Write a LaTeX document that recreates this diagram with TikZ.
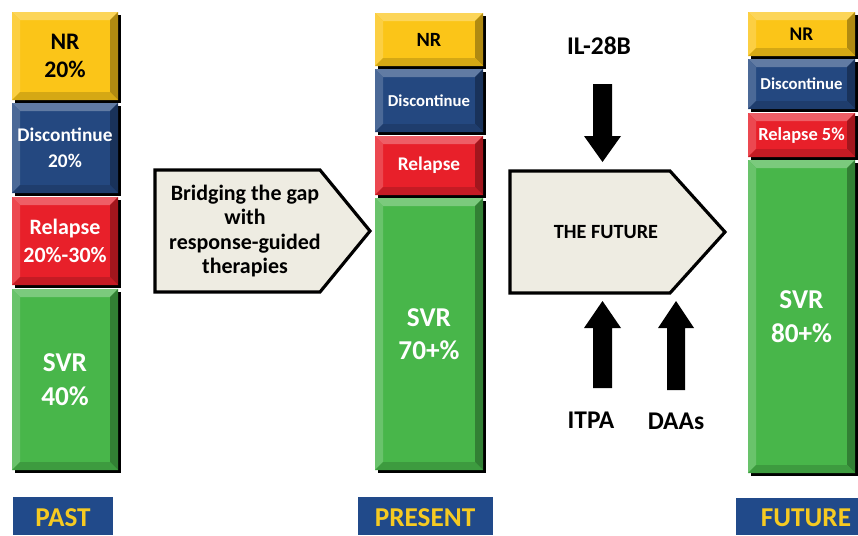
\documentclass[tikz,border=0pt]{standalone}
\usepackage{fontspec}
\setmainfont{Carlito}
\usetikzlibrary{positioning,calc}

\definecolor{nryellow}{RGB}{251,197,24}
\definecolor{dcblue}{RGB}{36,72,128}
\definecolor{rlred}{RGB}{232,32,42}
\definecolor{svgreen}{RGB}{72,182,74}
\definecolor{paper}{RGB}{238,236,226}
\definecolor{tagblue}{RGB}{33,74,138}
\definecolor{tagyellow}{RGB}{246,202,34}

\tikzset{
  boxtext/.style={font=\bfseries, text=white, align=center, inner sep=0pt},
  tag/.style={fill=tagblue},
  tagtext/.style={font=\bfseries\fontsize{15.5}{17}\selectfont, text=tagyellow},
  pentagon/.style={draw=black, fill=paper, line width=1.8pt, line join=miter},
  pushtext/.style={font=\bfseries\fontsize{14.5}{16}\selectfont}
}

% bevelled bar segment: x1, y1, x2, y2, colour, name, node options, text
\newcommand{\bevbox}[8]{%
  \fill[black] (#1+3,#2+3) rectangle (#3+3,#4+3);
  \fill[#5] (#1,#2) rectangle (#3,#4);
  \fill[#5!72!white] (#1,#2) -- (#3,#2) -- (#3-8,#2+8) -- (#1+8,#2+8) -- cycle;
  \fill[#5!82!white] (#1,#2) -- (#1+8,#2+8) -- (#1+8,#4-8) -- (#1,#4) -- cycle;
  \fill[#5!70!black] (#3,#2) -- (#3,#4) -- (#3-8,#4-8) -- (#3-8,#2+8) -- cycle;
  \fill[#5!85!black] (#1,#4) -- (#3,#4) -- (#3-8,#4-8) -- (#1+8,#4-8) -- cycle;
  \node[boxtext, #7] (#6) at ({(#1+#3)/2},{(#2+#4)/2}) {#8};
}

\begin{document}
\begin{tikzpicture}[x=0.02cm, y=-0.02cm]

\useasboundingbox (0,0) rectangle (858,535);

% Past column
\bevbox{12}{12}{118}{100}{nryellow}{pastnr}{text=black, font=\bfseries\fontsize{13.5}{16}\selectfont}{NR\\20\%}
\bevbox{12}{103}{118}{193}{dcblue}{pastdc}{font=\bfseries\fontsize{11}{15}\selectfont}{Discontinue\\20\%}
\bevbox{12}{197}{118}{285}{rlred}{pastrl}{font=\bfseries\fontsize{12.5}{16}\selectfont}{Relapse\\20\%-30\%}
\bevbox{12}{289}{118}{470}{svgreen}{pastsvr}{font=\bfseries\fontsize{15.5}{19}\selectfont}{SVR\\40\%}

% Present column
\bevbox{375}{13}{483}{66}{nryellow}{presnr}{text=black, font=\bfseries\fontsize{11.5}{13}\selectfont}{NR}
\bevbox{375}{69}{483}{132}{dcblue}{presdc}{font=\bfseries\fontsize{9.5}{11}\selectfont}{Discontinue}
\bevbox{375}{136}{483}{195}{rlred}{presrl}{font=\bfseries\fontsize{11}{12}\selectfont}{Relapse}
\bevbox{375}{198}{483}{470}{svgreen}{pressvr}{font=\bfseries\fontsize{15.5}{19}\selectfont}{SVR\\70+\%}

% Future column
\bevbox{748}{12}{855}{56}{nryellow}{futnr}{text=black, font=\bfseries\fontsize{11}{12}\selectfont}{NR}
\bevbox{748}{59}{855}{109}{dcblue}{futdc}{font=\bfseries\fontsize{9.5}{11}\selectfont}{Discontinue}
\bevbox{748}{113}{855}{157}{rlred}{futrl}{font=\bfseries\fontsize{10.5}{12}\selectfont}{Relapse 5\%}
\bevbox{748}{160}{855}{473}{svgreen}{futsvr}{font=\bfseries\fontsize{15.5}{19}\selectfont}{SVR\\80+\%}

% Era tags
\fill[tag] (13,497) rectangle (113,535);
\node[tagtext] (past) at (63,518) {PAST};
\fill[tag] (358,497) rectangle (493,535);
\node[tagtext] (present) at (425,518) {PRESENT};
\fill[tag] (736,498) rectangle (858,535);
\node[tagtext] (future) at (806,518) {FUTURE};

% Bridging arrow
\draw[pentagon] (155,170) -- (320,170) -- (370,231) -- (320,292) -- (155,292) -- cycle;
\node[font=\bfseries\fontsize{12.5}{14}\selectfont, align=center] (bridge) at (245,231)
  {Bridging the gap\\with\\response-guided\\therapies};

% Future arrow
\draw[pentagon] (510,171) -- (670,171) -- (725,232) -- (670,293) -- (510,293) -- cycle;
\node[font=\bfseries\fontsize{11.5}{13}\selectfont] (thefuture) at (606,232) {THE FUTURE};

% Pushing arrows
\node[pushtext] (il) at (599,46) {IL-28B};
\fill[black] (593,84) -- (612,84) -- (612,136) -- (621,136) -- (602.5,162)
  -- (584,136) -- (593,136) -- cycle;
\fill[black] (593,388) -- (612,388) -- (612,328) -- (621,328) -- (602.5,301)
  -- (584,328) -- (593,328) -- cycle;
\fill[black] (667,390) -- (685,390) -- (685,328) -- (694,328) -- (676,301)
  -- (658,328) -- (667,328) -- cycle;
\node[pushtext] (itpa) at (591,420) {ITPA};
\node[pushtext] (daas) at (676,421) {DAAs};

\end{tikzpicture}
\end{document}
